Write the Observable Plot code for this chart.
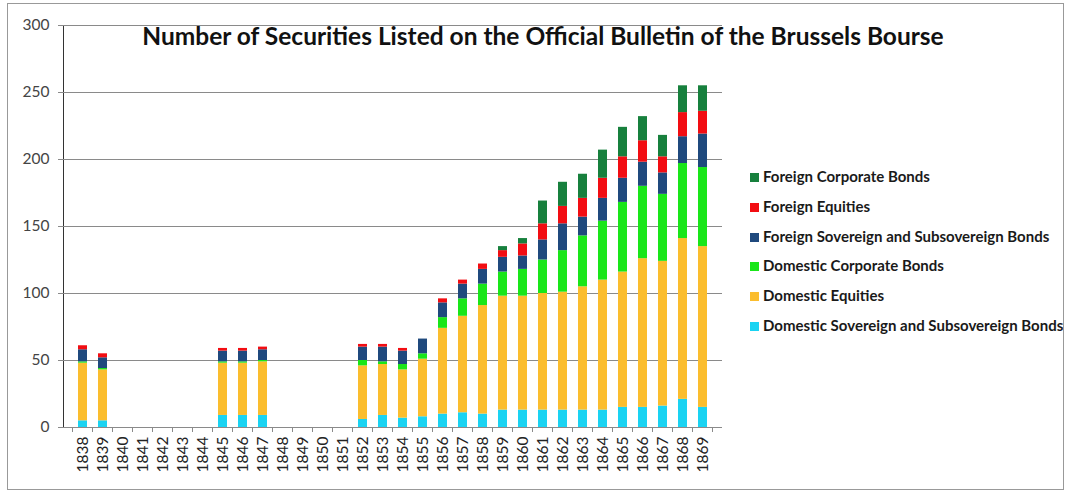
<!DOCTYPE html>
<html>
<head>
<meta charset="utf-8">
<script src="https://cdn.jsdelivr.net/npm/d3@7"></script>
<script src="https://cdn.jsdelivr.net/npm/@observablehq/plot@0.6"></script>
<style>
  html, body { margin: 0; padding: 0; background: #fff; }
  #wrap { position: relative; width: 1069px; height: 491px; overflow: hidden; }
  #frame { position: absolute; left: 7px; top: 3px; width: 1055px; height: 485px; border: 1px solid #999; pointer-events: none; }
  #title { position: absolute; left: 0; top: 21px; width: 1086px; text-align: center; font-family: Lato, sans-serif; font-weight: bold; font-size: 24.5px; color: #111; }
  #legend { position: absolute; left: 750px; top: 166px; font-family: Lato, sans-serif; font-weight: bold; font-size: 15px; color: #1a1a1a; }
  #legend .row { height: 29.8px; line-height: 20px; white-space: nowrap; }
  #legend .sw { display: inline-block; width: 9px; height: 9px; margin-right: 4px; vertical-align: 0px; }
</style>
</head>
<body>
<div id="wrap">
  <div id="chart"></div>
  <div id="title">Number of Securities Listed on the Official Bulletin of the Brussels Bourse</div>
  <div id="legend"></div>
  <div id="frame"></div>
</div>
<script>
const years = ["1838","1839","1840","1841","1842","1843","1844","1845","1846","1847","1848","1849","1850","1851","1852","1853","1854","1855","1856","1857","1858","1859","1860","1861","1862","1863","1864","1865","1866","1867","1868","1869"];

const seriesNames = [
  "Domestic Sovereign and Subsovereign Bonds",
  "Domestic Equities",
  "Domestic Corporate Bonds",
  "Foreign Sovereign and Subsovereign Bonds",
  "Foreign Equities",
  "Foreign Corporate Bonds"
];
const seriesColors = ["#1ad3f2", "#fbbd2e", "#19e619", "#1f497d", "#f20d12", "#17803d"];

//                    1838 1839 1840-44      1845 1846 1847 1848-51    1852 1853 1854 1855 1856 1857 1858 1859 1860 1861 1862 1863 1864 1865 1866 1867 1868 1869
const domSovereign  = [5,  5,  0,0,0,0,0,  9,  9,  9,  0,0,0,0,  6,  9,  7,  8,  10, 11, 10, 13, 13, 13, 13, 13, 13, 15, 15, 16, 21, 15];
const domEquities   = [43, 38, 0,0,0,0,0,  39, 39, 40, 0,0,0,0,  40, 38, 36, 43, 64, 72, 81, 85, 85, 87, 88, 92, 97, 101,111,108,120,120];
const domCorporate  = [1,  1,  0,0,0,0,0,  1,  1,  1,  0,0,0,0,  4,  2,  4,  4,  8,  13, 16, 18, 20, 25, 31, 38, 44, 52, 54, 50, 56, 59];
const forSovereign  = [9,  8,  0,0,0,0,0,  8,  8,  8,  0,0,0,0,  10, 11, 10, 11, 11, 11, 11, 11, 10, 15, 20, 14, 17, 18, 18, 16, 20, 25];
const forEquities   = [3,  3,  0,0,0,0,0,  2,  2,  2,  0,0,0,0,  2,  2,  2,  0,  3,  3,  4,  5,  9,  12, 13, 14, 15, 16, 16, 12, 18, 17];
const forCorporate  = [0,  0,  0,0,0,0,0,  0,  0,  0,  0,0,0,0,  0,  0,  0,  0,  0,  0,  0,  3,  4,  17, 18, 18, 21, 22, 18, 16, 20, 19];

const yTicks = [0, 50, 100, 150, 200, 250, 300];

const seriesValues = [domSovereign, domEquities, domCorporate, forSovereign, forEquities, forCorporate];
const data = [];
seriesNames.forEach((name, i) => {
  years.forEach((yr, j) => {
    data.push({year: yr, series: name, value: seriesValues[i][j]});
  });
});

const chart = Plot.plot({
  width: 1069,
  height: 491,
  marginLeft: 63,
  marginRight: 347,
  marginTop: 25,
  marginBottom: 64,
  style: {fontFamily: "Lato, sans-serif", fontSize: "15.5px", color: "#333", background: "transparent"},
  x: {type: "band", domain: years, paddingInner: 0.54, paddingOuter: 0.27, tickRotate: -90, tickSize: 0, tickPadding: 9, label: null},
  y: {domain: [0, 300], ticks: yTicks, tickSize: 5, tickPadding: 9, label: null, line: true},
  color: {domain: seriesNames, range: seriesColors},
  marks: [
    Plot.ruleY(yTicks, {stroke: "#8a8a8a", strokeWidth: 1}),
    Plot.barY(data, {x: "year", y: "value", fill: "series", order: seriesNames}),
    Plot.ruleY([0], {stroke: "#8a8a8a", strokeWidth: 1})
  ]
});

document.getElementById("chart").appendChild(chart);

// axis styling
const svg = d3.select(chart);
svg.selectAll("[aria-label^='y-axis'] path, [aria-label^='y-axis'] line").attr("stroke", "#8a8a8a");
svg.selectAll("[aria-label^='y-axis'] text").attr("fill", "#444");
svg.selectAll("[aria-label^='x-axis'] text").attr("fill", "#222");

// Excel-style ticks between categories
const sx = chart.scale("x");
const sy = chart.scale("y");
const step = sx.step, bw = sx.bandwidth;
const boundaries = years.map(yr => sx.apply(yr) - (step - bw) / 2);
boundaries.push(sx.apply(years[years.length - 1]) + bw + (step - bw) / 2);
const y0 = sy.apply(0);
svg.append("g").attr("stroke", "#8a8a8a")
  .selectAll("line").data(boundaries).join("line")
  .attr("x1", d => d).attr("x2", d => d)
  .attr("y1", y0).attr("y2", y0 + 5);

// legend (top to bottom: reverse of stack order)
const legend = d3.select("#legend");
seriesNames.slice().reverse().forEach(name => {
  const row = legend.append("div").attr("class", "row");
  row.append("span").attr("class", "sw").style("background", seriesColors[seriesNames.indexOf(name)]);
  row.append("span").text(name);
});
</script>
</body>
</html>
